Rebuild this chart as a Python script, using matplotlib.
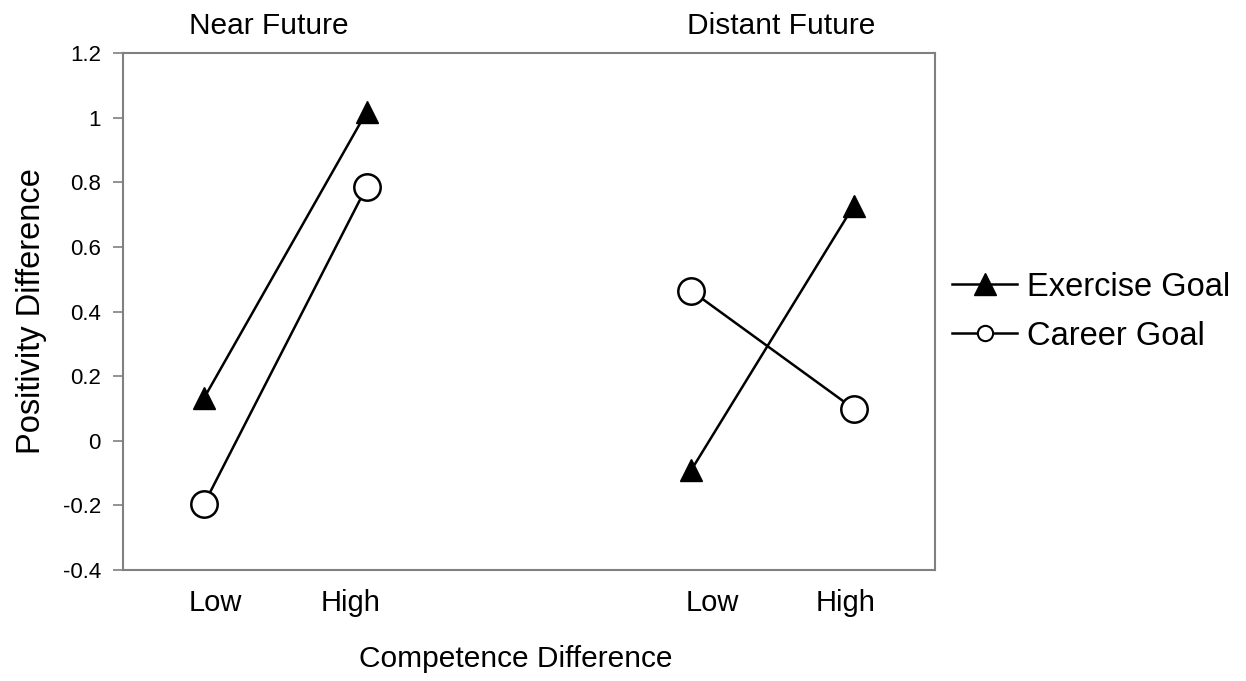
import matplotlib.pyplot as plt
from matplotlib.lines import Line2D

plt.rcParams['font.family'] = ['Liberation Sans', 'DejaVu Sans']

categories = ["Low", "High", "Low", "High"]
near_pos = [1, 2]
far_pos = [4, 5]

exercise_near = [0.133, 1.018]
exercise_far = [-0.09, 0.728]
career_near = [-0.195, 0.786]
career_far = [0.464, 0.099]

# the category labels sit a little off the points in the original
label_pos = [1.07, 1.90, 4.13, 4.95]

fig = plt.figure(figsize=(12.46, 6.81), dpi=100)
ax = fig.add_axes([0.0987, 0.163, 0.6517, 0.759])

tri = dict(color="black", lw=1.8, marker="^", ms=16, mfc="black", mec="black")
circ = dict(color="black", lw=1.8, marker="o", ms=19, mfc="white", mec="black", mew=1.8)

ax.plot(near_pos, exercise_near, **tri)
ax.plot(far_pos, exercise_far, **tri)
ax.plot(near_pos, career_near, **circ)
ax.plot(far_pos, career_far, **circ)

ax.set_xlim(0.5, 5.5)
ax.set_ylim(-0.4, 1.2)
ax.set_xticks(label_pos)
ax.set_xticklabels(categories, fontsize=21)
ax.set_yticks([-0.4, -0.2, 0, 0.2, 0.4, 0.6, 0.8, 1, 1.2])
ax.set_yticklabels(["-0.4", "-0.2", "0", "0.2", "0.4", "0.6", "0.8", "1", "1.2"], fontsize=16)
ax.tick_params(axis="x", length=0, pad=14)
ax.tick_params(axis="y", length=7, width=1.2, color="#808080", pad=9)
for s in ax.spines.values():
    s.set_color("#808080")
    s.set_linewidth(1.5)

ax.set_ylabel("Positivity Difference", fontsize=23.5, labelpad=11)
ax.set_xlabel("Competence Difference", fontsize=21.5)
ax.xaxis.set_label_coords(0.484, -0.145)

ax.text(1.4, 1.24, "Near Future", fontsize=21.5, ha="center", va="bottom")
ax.text(4.55, 1.24, "Distant Future", fontsize=21.5, ha="center", va="bottom")

handles = [
    Line2D([], [], color="black", lw=1.8, marker="^", ms=16, mfc="black"),
    Line2D([], [], color="black", lw=1.8, marker="o", ms=11, mfc="white", mew=1.5),
]
ax.legend(handles, ["Exercise Goal", "Career Goal"], loc="center left",
          bbox_to_anchor=(0.985, 0.5), frameon=False, fontsize=23.5,
          handlelength=2.0, handletextpad=0.3, labelspacing=0.55)

fig.savefig("out.png", dpi=100)
